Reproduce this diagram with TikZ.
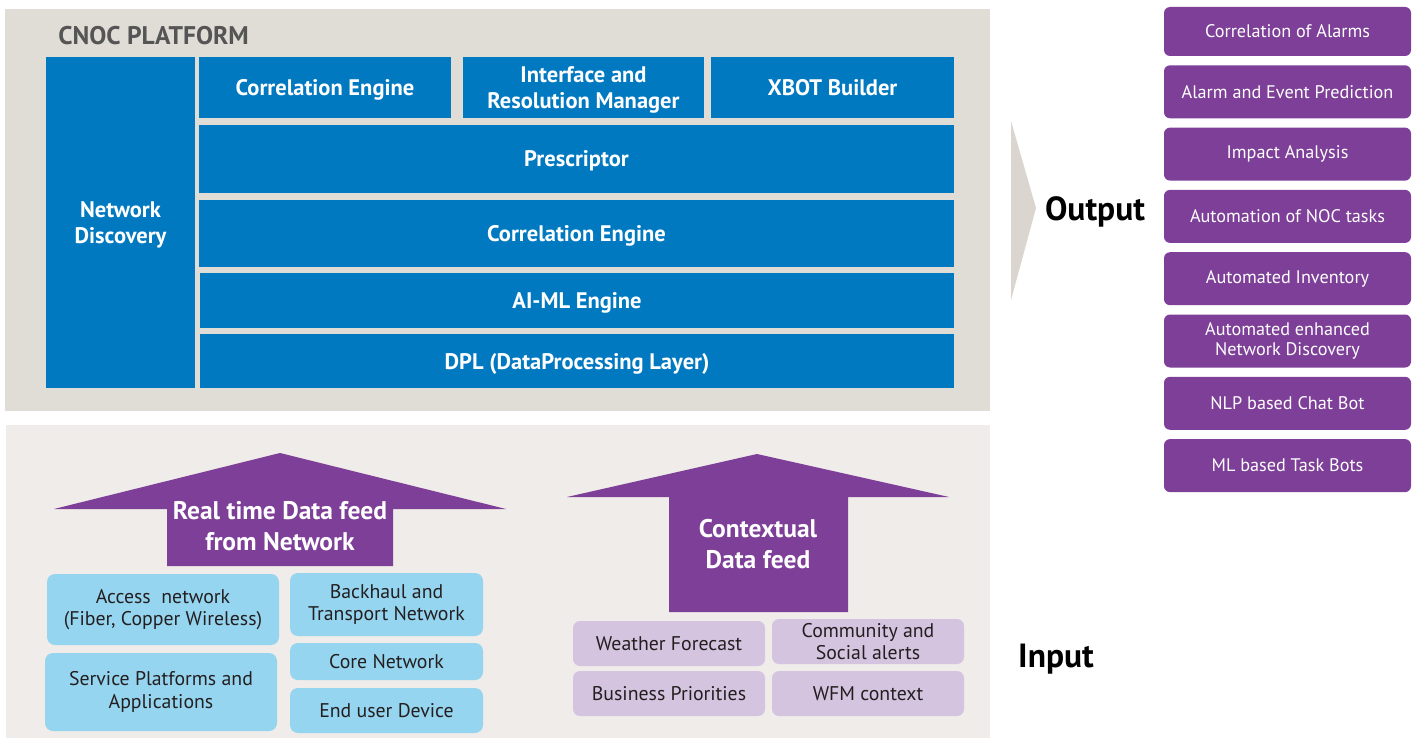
\documentclass[tikz,border=0pt]{standalone}
\usepackage{fontspec}
\setmainfont{PT Sans}
\usetikzlibrary{positioning}

\definecolor{cnocblue}{RGB}{0,121,193}
\definecolor{cnocpurple}{RGB}{125,63,151}
\definecolor{toppanel}{RGB}{224,220,214}
\definecolor{botpanel}{RGB}{239,236,233}
\definecolor{feedblue}{RGB}{150,213,240}
\definecolor{feedlilac}{RGB}{213,196,223}
\definecolor{wedgegray}{RGB}{218,213,207}
\definecolor{titlegray}{RGB}{85,85,85}
\definecolor{darktext}{RGB}{35,31,32}

\begin{document}
\begin{tikzpicture}[
    x=1pt, y=-1pt, % pixel-like grid, y pointing down
    outer sep=0pt, % no outer sep
    node distance=9.3pt, % gap between output boxes
    % --- styles ---
    % blue layer blocks of the platform
    layer box/.style={
        fill=cnocblue,
        text=white,
        anchor=north west,
        inner sep=0pt,
        text depth=0pt,
        align=center,
        font=\fontsize{22.5}{26}\selectfont\bfseries
    },
    % purple output blocks
    out box/.style={
        fill=cnocpurple,
        text=white,
        rounded corners=6pt,
        minimum width=247pt,
        minimum height=53pt,
        inner sep=0pt,
        align=center,
        font=\fontsize{18.2}{20}\selectfont
    },
    % light input blocks
    feed box/.style={
        fill=feedblue,
        text=darktext,
        rounded corners=8pt,
        anchor=north west,
        inner sep=0pt,
        align=center,
        font=\fontsize{19.8}{22.5}\selectfont
    },
    ctx box/.style={feed box, fill=feedlilac, rounded corners=7pt},
    % white text on the purple arrows
    arrow label/.style={
        text=white,
        align=center,
        font=\fontsize{25.5}{30.5}\selectfont\bfseries
    },
    % big black side labels
    side label/.style={font=\fontsize{33.5}{36}\selectfont\bfseries}
]

    \useasboundingbox (0,0) rectangle (1418,738);

    % ====== CNOC platform ======
    \fill[toppanel] (5,9) rectangle (990,411);
    \node[anchor=west, text=titlegray, font=\fontsize{25.5}{28}\selectfont\bfseries] (platform title) at (55,36) {CNOC PLATFORM};

    \node[layer box, minimum width=149pt, minimum height=331pt] (net disc) at (46,57) {Network\\Discovery};

    % top row
    \node[layer box, minimum width=252pt, minimum height=61pt] (corr top) at (199,57) {Correlation Engine};
    \node[layer box, minimum width=241pt, minimum height=61pt] (irm) at (463,57) {Interface and\\Resolution Manager};
    \node[layer box, minimum width=243pt, minimum height=61pt] (xbot) at (711,57) {XBOT Builder};

    % full width layers
    \node[layer box, minimum width=755pt, minimum height=68pt] (prescriptor) at (199,125) {Prescriptor};
    \node[layer box, minimum width=755pt, minimum height=67pt] (corr) at (199,200) {Correlation Engine};
    \node[layer box, minimum width=754pt, minimum height=55pt] (aiml) at (200,273) {AI-ML Engine};
    \node[layer box, minimum width=754pt, minimum height=54pt] (dpl) at (200,334) {DPL (DataProcessing Layer)};

    % ====== Output ======
    \fill[wedgegray] (1011,121) -- (1036,208) -- (1011,300) -- cycle;
    \node[side label] (output) at (1095,212) {Output};

    \node[out box, anchor=north west, minimum height=49pt] (out1) at (1164,7) {Correlation of Alarms};
    \node[out box, below=of out1] (out2) {Alarm and Event Prediction};
    \node[out box, below=of out2] (out3) {Impact Analysis};
    \node[out box, below=of out3] (out4) {Automation of NOC tasks};
    \node[out box, below=of out4] (out5) {Automated Inventory};
    \node[out box, below=of out5] (out6) {Automated enhanced\\Network Discovery};
    \node[out box, below=of out6] (out7) {NLP based Chat Bot};
    \node[out box, below=of out7] (out8) {ML based Task Bots};

    % ====== Input ======
    \fill[botpanel] (6,425) rectangle (990,738);

    % real time feed arrow
    \fill[cnocpurple] (280,453) -- (506,509) -- (393,509) -- (393,566) -- (167,566) -- (167,509) -- (54,509) -- cycle;
    \node[arrow label] (rt feed) at (280,526) {Real time Data feed\\from Network};

    \node[feed box, minimum width=232pt, minimum height=71pt] (access) at (47,574) {Access~ network\\(Fiber, Copper Wireless)};
    \node[feed box, minimum width=232pt, minimum height=78pt] (service) at (45,653) {Service Platforms and\\Applications};
    \node[feed box, minimum width=193pt, minimum height=63pt] (backhaul) at (290,573) {Backhaul and\\Transport Network};
    \node[feed box, minimum width=193pt, minimum height=37pt] (core) at (290,643) {Core Network};
    \node[feed box, minimum width=193pt, minimum height=45pt] (enduser) at (290,688) {End user Device};

    % contextual feed arrow
    \fill[cnocpurple] (757,454) -- (949,497) -- (848,497) -- (848,612) -- (669,612) -- (669,497) -- (567,497) -- cycle;
    \node[arrow label] (ctx feed) at (758,544) {Contextual\\Data feed};

    \node[ctx box, minimum width=192pt, minimum height=45pt] (weather) at (573,621) {Weather Forecast};
    \node[ctx box, minimum width=192pt, minimum height=45pt] (community) at (772,619) {Community and\\Social alerts};
    \node[ctx box, minimum width=192pt, minimum height=45pt] (business) at (573,671) {Business Priorities};
    \node[ctx box, minimum width=192pt, minimum height=45pt] (wfm) at (772,671) {WFM context};

    \node[side label] (input) at (1056,659) {Input};

\end{tikzpicture}
\end{document}
